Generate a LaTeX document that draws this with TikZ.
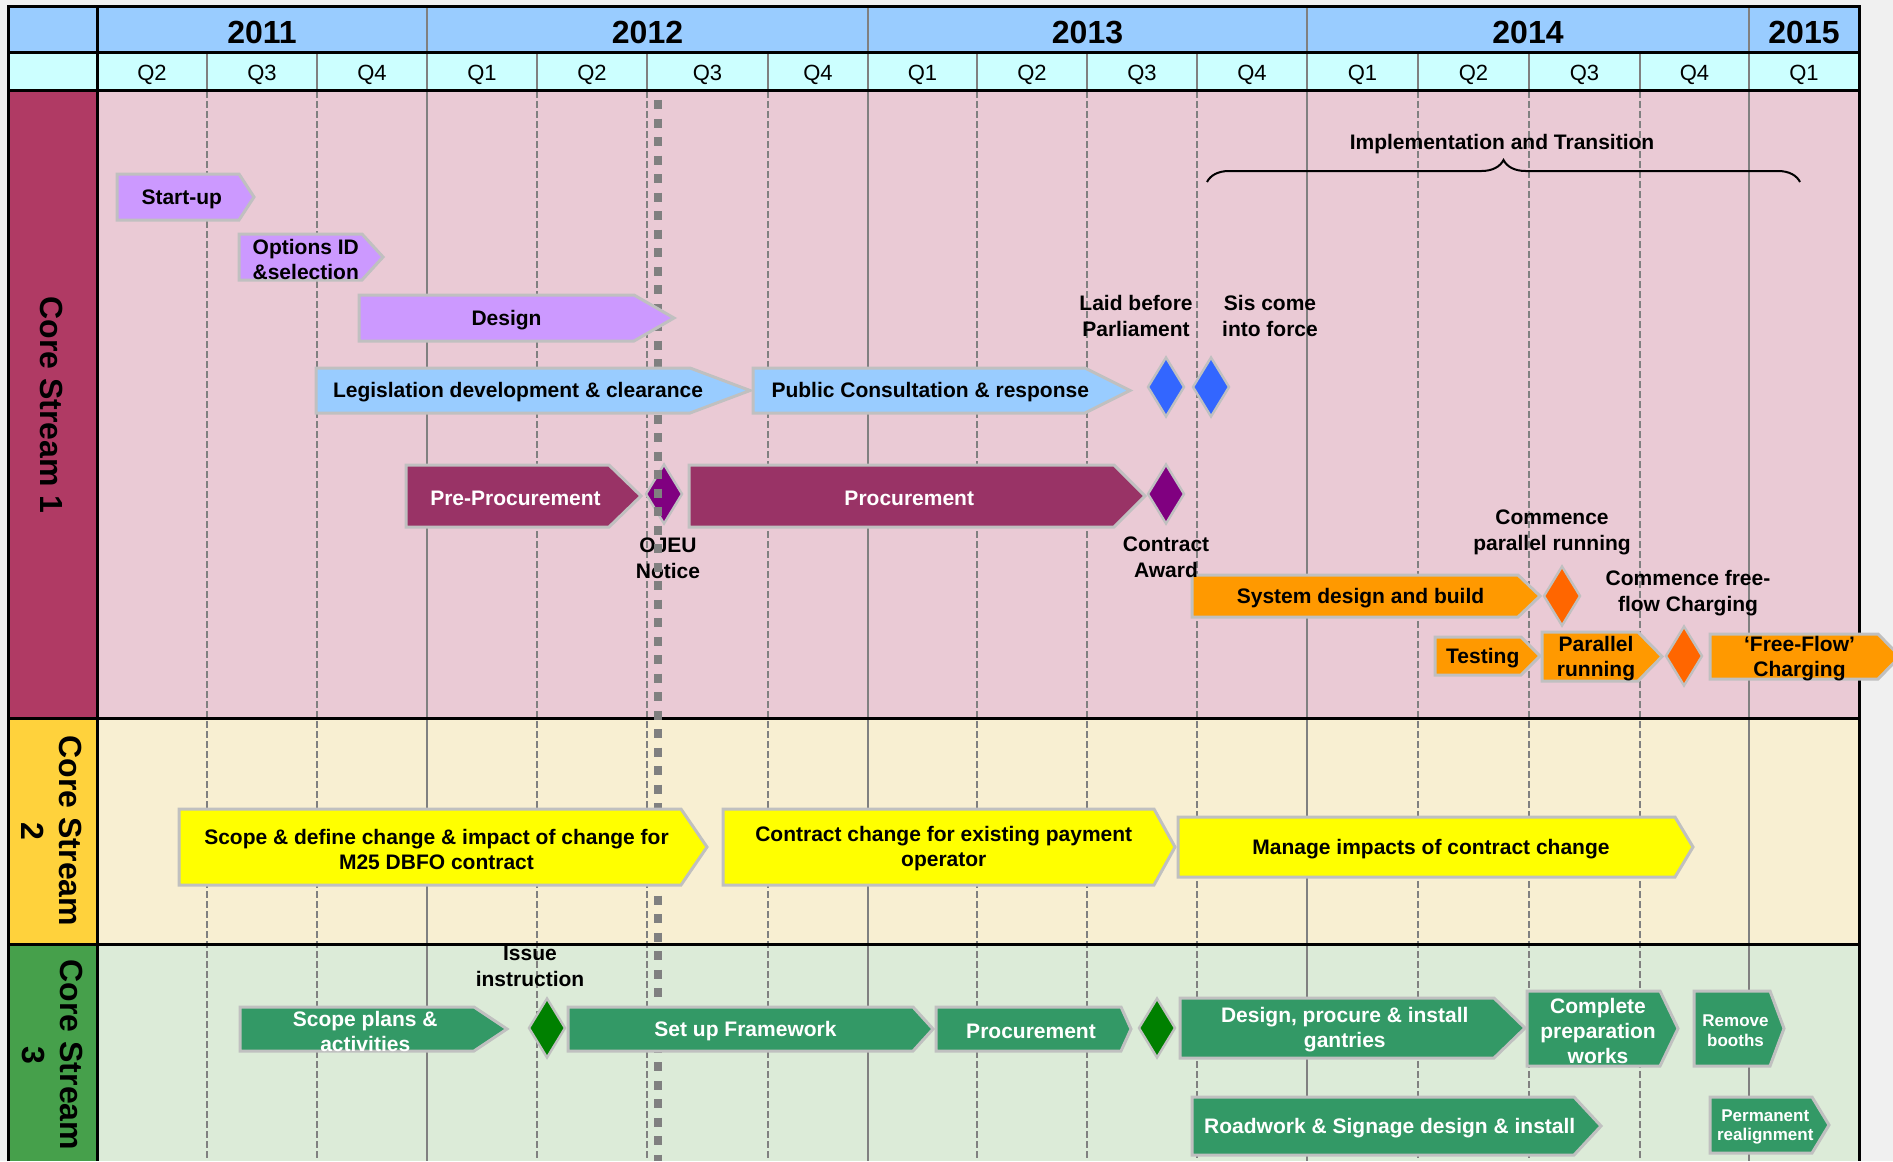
\documentclass[tikz,border=0pt]{standalone}
\usepackage{fontspec}
\setmainfont{Liberation Sans}
\usetikzlibrary{shapes.geometric,decorations.pathreplacing}
\definecolor{cPage}{HTML}{F0F0F0}
\definecolor{cYear}{HTML}{99CCFF}
\definecolor{cQuarter}{HTML}{CCFFFF}
\definecolor{cRoseLabel}{HTML}{B03A64}
\definecolor{cRoseBand}{HTML}{EACAD5}
\definecolor{cGoldLabel}{HTML}{FFD23C}
\definecolor{cGoldBand}{HTML}{F8EFD2}
\definecolor{cLeafLabel}{HTML}{46A04B}
\definecolor{cLeafBand}{HTML}{DCEBD8}
\definecolor{cRule}{HTML}{808080}
\definecolor{cEdge}{HTML}{C0C0C0}
\definecolor{cLilac}{HTML}{CC99FF}
\definecolor{cSky}{HTML}{99CCFF}
\definecolor{cPlum}{HTML}{993366}
\definecolor{cAmber}{HTML}{FF9900}
\definecolor{cLemon}{HTML}{FFFF00}
\definecolor{cFern}{HTML}{339966}
\definecolor{cBlue}{HTML}{3366FF}
\definecolor{cPurple}{HTML}{800080}
\definecolor{cFlame}{HTML}{FF6600}
\definecolor{cGreen}{HTML}{008000}
\tikzset{
	bar/.style={draw=cEdge,line width=1.5pt,line join=miter},
	bartext/.style={font=\bfseries\fontsize{10.5}{12.5}\selectfont,align=center,inner sep=0pt,yshift=-1pt},
	lilac/.style={bar,fill=cLilac}, lilac text/.style={bartext},
	sky/.style={bar,fill=cSky}, sky text/.style={bartext},
	plum/.style={bar,fill=cPlum}, plum text/.style={bartext,text=white},
	amber/.style={bar,fill=cAmber}, amber text/.style={bartext},
	lemon/.style={bar,fill=cLemon}, lemon text/.style={bartext},
	fern/.style={bar,fill=cFern}, fern text/.style={bartext,text=white},
	fernsmall/.style={fern}, fernsmall text/.style={fern text,font=\bfseries\fontsize{8.5}{9.75}\selectfont},
	gate/.style={diamond,draw=cEdge,line width=1.2pt,fill=#1,minimum width=18.5pt,minimum height=30pt,inner sep=0pt},
	note/.style={font=\bfseries\fontsize{10.5}{13}\selectfont,align=center,inner sep=0pt},
	yearlabel/.style={font=\bfseries\fontsize{16}{19}\selectfont,inner sep=0pt,yshift=-1.2pt},
	qlabel/.style={font=\fontsize{11}{13}\selectfont,inner sep=0pt,yshift=-1.6pt},
	streamlabel/.style={font=\bfseries\fontsize{16}{19}\selectfont,align=center,rotate=-90,inner sep=0pt},
	blackrule/.style={line width=1.5pt,black},
	yearrule/.style={line width=1.2pt,cRule},
	qrule/.style={line width=1pt,cRule,dash pattern=on 3.5pt off 1.5pt},
	headrule/.style={line width=1.3pt,cRule},
	ojeurule/.style={line width=4pt,cRule,dash pattern=on 4.5pt off 4.75pt},
	bracket/.style={decorate,decoration={brace,amplitude=11pt},line width=1pt}
}
\newcommand{\phasebar}[8]{%
	\draw[#1] (#3,#6) -- (#4,#6) -- (#5,{(#6+#7)/2}) -- (#4,#7) -- (#3,#7) -- cycle;
	\node[#1 text] (#2) at ({(#3+(#4+#5)/2)/2},{(#6+#7)/2}) {#8};}
\newcommand{\milestone}[4]{\node[gate=#1] (#2) at (#3,#4) {};}
\begin{document}
\begin{tikzpicture}[x=0.5pt,y=-0.5pt]
	\useasboundingbox (0,0) rectangle (1893,1161);
	\clip (0,0) rectangle (1893,1161);
	\fill[cPage] (0,0) rectangle (1893,1161);
	\fill[cYear] (8,7) rectangle (1859,53);
	\fill[cQuarter] (8,53) rectangle (1859,91);
	\fill[cRoseLabel] (8,91) rectangle (97,718);
	\fill[cRoseBand] (97,91) rectangle (1859,718);
	\fill[cGoldLabel] (8,718) rectangle (97,944);
	\fill[cGoldBand] (97,718) rectangle (1859,944);
	\fill[cLeafLabel] (8,944) rectangle (97,1161);
	\fill[cLeafBand] (97,944) rectangle (1859,1161);

	\foreach \x in {207,317,537,647,768,977,1087,1197,1418,1529,1640}
		\draw[qrule] (\x,91) -- (\x,1161);
	\foreach \x in {427,868,1307,1749}{
		\draw[yearrule] (\x,91) -- (\x,1161);
		\draw[headrule] (\x,7) -- (\x,53);}
	\foreach \x in {207,317,427,537,647,768,868,977,1087,1197,1307,1418,1529,1640,1749}
		\draw[headrule] (\x,53) -- (\x,91);
	\draw[blackrule] (8,1161) -- (8,7) -- (1859,7) -- (1859,1161);
	\foreach \y in {53,91,718,944}
		\draw[blackrule] (8,\y) -- (1859,\y);
	\draw[blackrule] (97,7) -- (97,1161);

	\foreach \a/\b/\yr in {97/427/2011,427/868/2012,868/1307/2013,1307/1749/2014,1749/1859/2015}
		\node[yearlabel] (y\yr) at ({(\a+\b)/2},30) {\yr};
	\foreach \a/\b/\q in {97/207/Q2,207/317/Q3,317/427/Q4,427/537/Q1,537/647/Q2,647/768/Q3,768/868/Q4,868/977/Q1,977/1087/Q2,1087/1197/Q3,1197/1307/Q4,1307/1418/Q1,1418/1529/Q2,1529/1640/Q3,1640/1749/Q4,1749/1859/Q1}
		\node[qlabel] (q\a) at ({(\a+\b)/2},72) {\q};

	\node[streamlabel] (cs1) at (52,405) {Core Stream 1};
	\node[streamlabel] (cs2) at (52,831) {Core Stream\\2};
	\node[streamlabel] (cs3) at (52,1055) {Core Stream\\3};

	\milestone{cPurple}{ojeu}{664}{494}
	\node[note] (ojeutxt) at (668,558) {OJEU\\Notice};
	\draw[ojeurule] (658,100) -- (658,1161);

	\phasebar{lilac}{startup}{117}{239}{254}{174}{220}{Start-up}
	\phasebar{lilac}{options}{239}{362}{383}{234}{280}{Options ID\\\&selection}
	\phasebar{lilac}{design}{359}{634}{674}{295}{341}{Design}
	\phasebar{sky}{legis}{316}{690}{750}{368}{413}{Legislation development \& clearance}
	\phasebar{sky}{consult}{753}{1085}{1130}{368}{413}{Public Consultation \& response}
	\phasebar{plum}{preproc}{406}{609}{641}{465}{527}{Pre-Procurement}
	\phasebar{plum}{proc}{689}{1114}{1145}{465}{527}{Procurement}
	\phasebar{amber}{sysbuild}{1192}{1518}{1540}{575}{617}{System design and build}
	\phasebar{amber}{testing}{1435}{1521}{1540}{637}{675}{Testing}
	\phasebar{amber}{parallel}{1542}{1638}{1662}{632}{681}{Parallel\\running}
	\phasebar{amber}{freeflow}{1710}{1878}{1900}{634}{679}{‘Free-Flow’\\Charging}

	\milestone{cBlue}{laid}{1166}{387}
	\milestone{cBlue}{sis}{1211}{387}
	\milestone{cPurple}{award}{1166}{494}
	\milestone{cFlame}{startpar}{1562}{596}
	\milestone{cFlame}{startfree}{1684}{656}

	\phasebar{lemon}{scope}{179}{681}{707}{809}{885}{Scope \& define change \& impact of change for\\M25 DBFO contract}
	\phasebar{lemon}{change}{723}{1154}{1175}{809}{885}{Contract change for existing payment\\operator}
	\phasebar{lemon}{manage}{1178}{1675}{1693}{817}{877}{Manage impacts of contract change}

	\phasebar{fern}{scopeplans}{240}{474}{507}{1007}{1051}{Scope plans \&\\activities}
	\phasebar{fern}{framework}{568}{913}{933}{1007}{1051}{Set up Framework}
	\phasebar{fern}{proc3}{936}{1121}{1131}{1007}{1051}{Procurement}
	\phasebar{fern}{gantries}{1180}{1494}{1525}{998}{1058}{Design, procure \& install\\gantries}
	\phasebar{fern}{prepworks}{1527}{1660}{1678}{991}{1066}{Complete\\preparation\\works}
	\phasebar{fernsmall}{booths}{1694}{1770}{1784}{991}{1066}{Remove\\booths}
	\phasebar{fern}{roadwork}{1192}{1574}{1601}{1097}{1155}{Roadwork \& Signage design \& install}
	\phasebar{fernsmall}{realign}{1710}{1812}{1829}{1097}{1153}{Permanent\\realignment}
	\milestone{cGreen}{issue}{547}{1028}
	\milestone{cGreen}{gate3}{1157}{1028}

	\node[note] (laidtxt) at (1136,316) {Laid before\\Parliament};
	\node[note] (sistxt) at (1270,316) {Sis come\\into force};
	\node[note] (awardtxt) at (1166,557) {Contract\\Award};
	\node[note] (startpartxt) at (1552,532) {Commence\\parallel running};
	\node[note] (startfreetxt) at (1688,593) {Commence free-\\flow Charging};
	\node[note] (issuetxt) at (530,966) {Issue\\instruction};
	\node[note] (impl) at (1502,144) {Implementation and Transition};
	\coordinate (implL) at (1207,182);
	\coordinate (implR) at (1800,182);
	\draw[bracket] (implL) -- (implR);
\end{tikzpicture}
\end{document}
